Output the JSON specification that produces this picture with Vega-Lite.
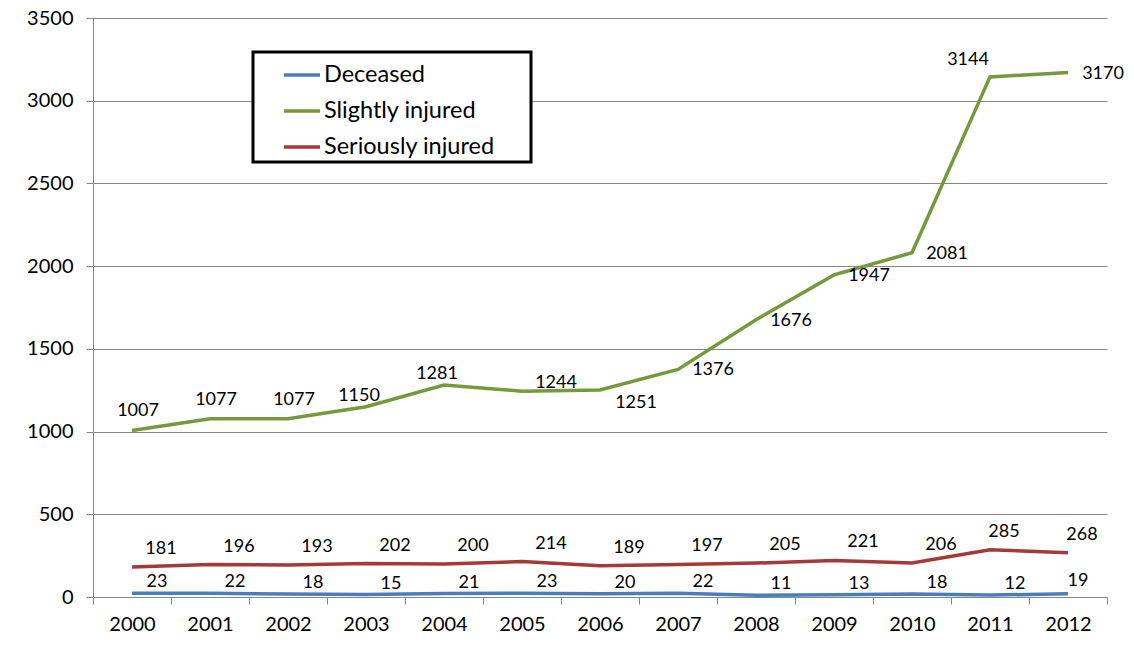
{
  "$schema": "https://vega.github.io/schema/vega-lite/v6.json",
  "width": 1014,
  "height": 579,
  "autosize": {"type": "none"},
  "padding": {"left": 93, "top": 18, "right": 27, "bottom": 59},
  "background": "white",
  "config": {
    "font": "Lato",
    "view": {"stroke": null},
    "axis": {"labelFont": "Lato", "labelFontSize": 20, "labelColor": "black", "domainColor": "#868686", "tickColor": "#868686", "gridColor": "#868686", "title": null},
    "legend": {"strokeWidth": 3}
  },
  "data": {
    "values": [
      {"year": "2000", "series": "Deceased", "value": 23},
      {"year": "2001", "series": "Deceased", "value": 22},
      {"year": "2002", "series": "Deceased", "value": 18},
      {"year": "2003", "series": "Deceased", "value": 15},
      {"year": "2004", "series": "Deceased", "value": 21},
      {"year": "2005", "series": "Deceased", "value": 23},
      {"year": "2006", "series": "Deceased", "value": 20},
      {"year": "2007", "series": "Deceased", "value": 22},
      {"year": "2008", "series": "Deceased", "value": 11},
      {"year": "2009", "series": "Deceased", "value": 13},
      {"year": "2010", "series": "Deceased", "value": 18},
      {"year": "2011", "series": "Deceased", "value": 12},
      {"year": "2012", "series": "Deceased", "value": 19},
      {"year": "2000", "series": "Slightly injured", "value": 1007},
      {"year": "2001", "series": "Slightly injured", "value": 1077},
      {"year": "2002", "series": "Slightly injured", "value": 1077},
      {"year": "2003", "series": "Slightly injured", "value": 1150},
      {"year": "2004", "series": "Slightly injured", "value": 1281},
      {"year": "2005", "series": "Slightly injured", "value": 1244},
      {"year": "2006", "series": "Slightly injured", "value": 1251},
      {"year": "2007", "series": "Slightly injured", "value": 1376},
      {"year": "2008", "series": "Slightly injured", "value": 1676},
      {"year": "2009", "series": "Slightly injured", "value": 1947},
      {"year": "2010", "series": "Slightly injured", "value": 2081},
      {"year": "2011", "series": "Slightly injured", "value": 3144},
      {"year": "2012", "series": "Slightly injured", "value": 3170},
      {"year": "2000", "series": "Seriously injured", "value": 181},
      {"year": "2001", "series": "Seriously injured", "value": 196},
      {"year": "2002", "series": "Seriously injured", "value": 193},
      {"year": "2003", "series": "Seriously injured", "value": 202},
      {"year": "2004", "series": "Seriously injured", "value": 200},
      {"year": "2005", "series": "Seriously injured", "value": 214},
      {"year": "2006", "series": "Seriously injured", "value": 189},
      {"year": "2007", "series": "Seriously injured", "value": 197},
      {"year": "2008", "series": "Seriously injured", "value": 205},
      {"year": "2009", "series": "Seriously injured", "value": 221},
      {"year": "2010", "series": "Seriously injured", "value": 206},
      {"year": "2011", "series": "Seriously injured", "value": 285},
      {"year": "2012", "series": "Seriously injured", "value": 268}
    ]
  },
  "encoding": {
    "x": {
      "field": "year", "type": "ordinal",
      "scale": {"type": "band", "paddingInner": 0, "paddingOuter": 0},
      "axis": {"labelAngle": 0, "tickBand": "extent", "tickSize": 7, "labelPadding": 10, "grid": false}
    },
    "y": {
      "field": "value", "type": "quantitative",
      "scale": {"domain": [0, 3500], "nice": false, "zero": true},
      "axis": {"values": [0, 500, 1000, 1500, 2000, 2500, 3000, 3500], "format": "d", "tickSize": 7, "labelPadding": 13, "grid": true}
    }
  },
  "layer": [
    {
      "mark": {"type": "line", "strokeWidth": 3.5},
      "encoding": {
        "color": {
          "field": "series", "type": "nominal",
          "scale": {"domain": ["Deceased", "Slightly injured", "Seriously injured"], "range": ["#4A7EBB", "#77993D", "#A43A37"]},
          "legend": {
            "title": "x", "titleOrient": "right", "titleColor": "white", "titleFontSize": 8, "titlePadding": 28,
            "orient": "none", "legendX": 160, "legendY": 34,
            "symbolType": "stroke", "symbolSize": 1300, "symbolStrokeWidth": 3.5,
            "labelFont": "Lato", "labelFontSize": 23.5, "labelColor": "black", "labelLimit": 400,
            "padding": 3, "symbolOffset": 26, "labelOffset": 2, "rowPadding": 4,
            "strokeColor": "black", "fillColor": "white"
          }
        }
      }
    },
    {
      "transform": [{"filter": {"and": [{"field": "series", "equal": "Slightly injured"}, {"field": "year", "oneOf": ["2000", "2001", "2002"]}]}}],
      "mark": {"type": "text", "fontSize": 18, "font": "Lato", "baseline": "middle", "dx": 6, "dy": -19, "color": "black"},
      "encoding": {"text": {"field": "value"}}
    },
    {
      "transform": [{"filter": {"and": [{"field": "series", "equal": "Slightly injured"}, {"field": "year", "oneOf": ["2003", "2004"]}]}}],
      "mark": {"type": "text", "fontSize": 18, "font": "Lato", "baseline": "middle", "dx": -7, "dy": -11, "color": "black"},
      "encoding": {"text": {"field": "value"}}
    },
    {
      "transform": [{"filter": {"and": [{"field": "series", "equal": "Slightly injured"}, {"field": "year", "oneOf": ["2005"]}]}}],
      "mark": {"type": "text", "fontSize": 18, "font": "Lato", "baseline": "middle", "dx": 34, "dy": -8, "color": "black"},
      "encoding": {"text": {"field": "value"}}
    },
    {
      "transform": [{"filter": {"and": [{"field": "series", "equal": "Slightly injured"}, {"field": "year", "oneOf": ["2006"]}]}}],
      "mark": {"type": "text", "fontSize": 18, "font": "Lato", "baseline": "middle", "dx": 36, "dy": 13, "color": "black"},
      "encoding": {"text": {"field": "value"}}
    },
    {
      "transform": [{"filter": {"and": [{"field": "series", "equal": "Slightly injured"}, {"field": "year", "oneOf": ["2007", "2008", "2009", "2010", "2012"]}]}}],
      "mark": {"type": "text", "fontSize": 18, "font": "Lato", "baseline": "middle", "dx": 35, "dy": 1, "color": "black"},
      "encoding": {"text": {"field": "value"}}
    },
    {
      "transform": [{"filter": {"and": [{"field": "series", "equal": "Slightly injured"}, {"field": "year", "oneOf": ["2011"]}]}}],
      "mark": {"type": "text", "fontSize": 18, "font": "Lato", "baseline": "middle", "dx": -22, "dy": -17, "color": "black"},
      "encoding": {"text": {"field": "value"}}
    },
    {
      "transform": [{"filter": {"and": [{"field": "series", "equal": "Seriously injured"}, {"field": "year", "oneOf": ["2000", "2001", "2002", "2003", "2004", "2005", "2006", "2007", "2008", "2009", "2010"]}]}}],
      "mark": {"type": "text", "fontSize": 18, "font": "Lato", "baseline": "middle", "dx": 29, "dy": -18, "color": "black"},
      "encoding": {"text": {"field": "value"}}
    },
    {
      "transform": [{"filter": {"and": [{"field": "series", "equal": "Seriously injured"}, {"field": "year", "oneOf": ["2011", "2012"]}]}}],
      "mark": {"type": "text", "fontSize": 18, "font": "Lato", "baseline": "middle", "dx": 14, "dy": -18, "color": "black"},
      "encoding": {"text": {"field": "value"}}
    },
    {
      "transform": [{"filter": {"and": [{"field": "series", "equal": "Deceased"}, {"field": "year", "oneOf": ["2000", "2001", "2002", "2003", "2004", "2005", "2006", "2007", "2008", "2009", "2010", "2011"]}]}}],
      "mark": {"type": "text", "fontSize": 18, "font": "Lato", "baseline": "middle", "dx": 25, "dy": -11, "color": "black"},
      "encoding": {"text": {"field": "value"}}
    },
    {
      "transform": [{"filter": {"and": [{"field": "series", "equal": "Deceased"}, {"field": "year", "oneOf": ["2012"]}]}}],
      "mark": {"type": "text", "fontSize": 18, "font": "Lato", "baseline": "middle", "dx": 10, "dy": -13, "color": "black"},
      "encoding": {"text": {"field": "value"}}
    }
  ]
}
